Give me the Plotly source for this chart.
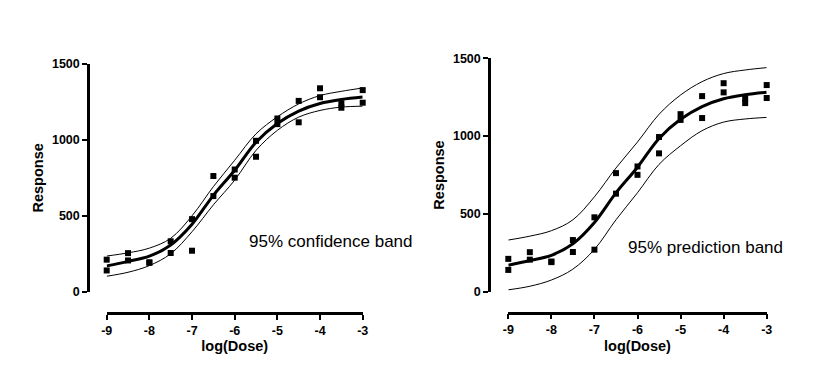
import plotly.graph_objects as go

W, H = 824, 386

# ---- data ----
log_dose = [-9, -8.5, -8, -7.5, -7, -6.5, -6, -5.5, -5, -4.5, -4, -3.5, -3]
response_rep1 = [211, 254, 194, 332, 478, 762, 805, 994, 1141, 1257, 1340, 1241, 1328]
response_rep2 = [140, 206, 190, 255, 270, 630, 751, 889, 1104, 1116, 1281, 1212, 1245]

fit_curve = [170, 200, 234, 308, 445, 635, 800, 985, 1108, 1190, 1240, 1266, 1282]
ci_upper = [235, 256, 287, 352, 500, 692, 866, 1040, 1152, 1237, 1292, 1320, 1342]
ci_lower = [102, 128, 172, 250, 395, 572, 735, 931, 1063, 1150, 1194, 1216, 1222]
pi_upper = [332, 357, 392, 462, 610, 795, 962, 1140, 1264, 1350, 1402, 1425, 1440]
pi_lower = [12, 35, 75, 145, 272, 462, 636, 818, 938, 1035, 1090, 1110, 1120]

x_ticks = [-9, -8, -7, -6, -5, -4, -3]
x_tick_labels = ["-9", "-8", "-7", "-6", "-5", "-4", "-3"]
y_ticks = [0, 500, 1000, 1500]
y_tick_labels = ["0", "500", "1000", "1500"]

FONT = "Liberation Sans, Arial, sans-serif"

fig = go.Figure()


def add_panel(xa, ya, upper, lower):
    xs = log_dose + log_dose
    ys = response_rep1 + response_rep2
    for band in (upper, lower):
        fig.add_trace(go.Scatter(x=log_dose, y=band, mode="lines",
                                 line=dict(color="black", width=1, shape="spline"),
                                 xaxis=xa, yaxis=ya, showlegend=False, cliponaxis=False))
    fig.add_trace(go.Scatter(x=log_dose, y=fit_curve, mode="lines",
                             line=dict(color="black", width=3, shape="spline"),
                             xaxis=xa, yaxis=ya, showlegend=False, cliponaxis=False))
    fig.add_trace(go.Scatter(x=xs, y=ys, mode="markers",
                             marker=dict(symbol="square", size=6, color="black"),
                             xaxis=xa, yaxis=ya, showlegend=False, cliponaxis=False))


add_panel("x", "y", ci_upper, ci_lower)
add_panel("x2", "y2", pi_upper, pi_lower)


def px(v):
    return v / W


def py(v):
    return 1 - v / H


tickfont = dict(family=FONT, size=12.5, color="black", weight="bold")
titlefont = dict(family=FONT, size=14.5, color="black", weight="bold")

common_x = dict(range=[-9, -3], tickvals=x_ticks, ticktext=x_tick_labels,
                showgrid=False, zeroline=False,
                showline=True, linecolor="black", linewidth=2.5, ticks="outside",
                ticklen=5, tickwidth=2, tickcolor="black", tickfont=tickfont,
                anchor="free", fixedrange=True)
common_y = dict(range=[0, 1500], tickvals=y_ticks, ticktext=y_tick_labels,
                showgrid=False, zeroline=False,
                showline=True, linecolor="black", linewidth=2.5, ticks="outside",
                ticklen=5, tickwidth=2, tickcolor="black", tickfont=tickfont,
                anchor="free", fixedrange=True)

fig.update_layout(
    width=W, height=H,
    margin=dict(l=0, r=0, t=0, b=0, autoexpand=False),
    paper_bgcolor="white", plot_bgcolor="white",
    hovermode=False,
    xaxis=dict(common_x, domain=[px(106.7), px(362.7)], position=py(313),
               title=dict(text="log(Dose)", font=titlefont, standoff=4)),
    yaxis=dict(common_y, domain=[py(291.7), py(64)], position=px(88),
               title=dict(text="Response", font=titlefont, standoff=3)),
    xaxis2=dict(common_x, domain=[px(508.3), px(766.7)], position=py(312.7),
                title=dict(text="log(Dose)", font=titlefont, standoff=4)),
    yaxis2=dict(common_y, domain=[py(291.7), py(58.3)], position=px(489),
                title=dict(text="Response", font=titlefont, standoff=3)),
    annotations=[
        dict(text="95% confidence band", x=px(247), y=py(241), xref="paper", yref="paper",
             xanchor="left", yanchor="middle", showarrow=False,
             font=dict(family=FONT, size=17, color="black")),
        dict(text="95% prediction band", x=px(626), y=py(247), xref="paper", yref="paper",
             xanchor="left", yanchor="middle", showarrow=False,
             font=dict(family=FONT, size=17, color="black")),
    ],
)

fig.write_html("out.html", config={"displayModeBar": False},
               post_script="document.body.style.margin='0';document.body.style.overflow='hidden';")
